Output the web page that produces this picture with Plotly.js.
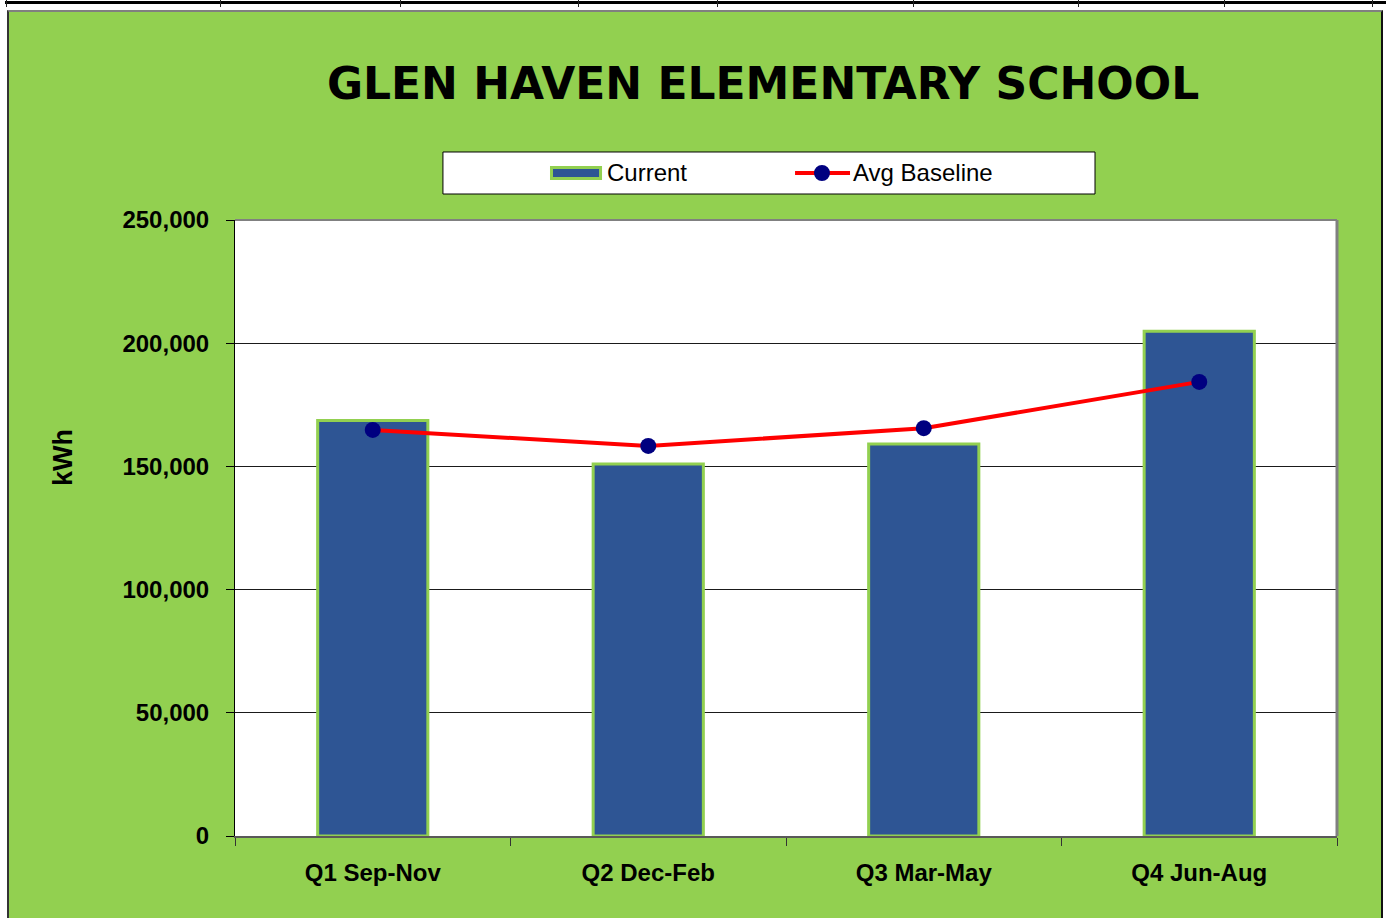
<!DOCTYPE html>
<html>
<head>
<meta charset="utf-8">
<script src="https://cdn.plot.ly/plotly-3.0.1.min.js"></script>
<style>
  html, body { margin: 0; padding: 0; background: #ffffff; width: 1386px; height: 918px; overflow: hidden; }
  #topline { position: absolute; left: 5px; top: 1px; width: 1381px; height: 3px; background: #000; }
  .tk { position: absolute; top: 0px; width: 1px; height: 7px; background: #222; }
  #chart { position: absolute; left: 7px; top: 10px; width: 1372px; height: 906px;
           border-top: 2px solid #808080; border-left: 2px solid #333; border-right: 2px solid #111; }
</style>
</head>
<body>
<div id="topline"></div>
<div class="tk" style="left:6px"></div>
<div class="tk" style="left:220px"></div>
<div class="tk" style="left:400px"></div>
<div class="tk" style="left:578px"></div>
<div class="tk" style="left:717px"></div>
<div class="tk" style="left:913px"></div>
<div class="tk" style="left:1078px"></div>
<div class="tk" style="left:1224px"></div>
<div class="tk" style="left:1372px"></div>
<div id="chart"></div>
<script>
const categories = ["Q1 Sep-Nov", "Q2 Dec-Feb", "Q3 Mar-May", "Q4 Jun-Aug"];
const currentKWh = [168600, 151000, 159100, 204800];
const avgBaselineKWh = [164800, 158300, 165500, 184300];
const yTickValues = [0, 50000, 100000, 150000, 200000, 250000];
const yTickLabels = ["0", "50,000", "100,000", "150,000", "200,000", "250,000"];
const seriesNames = ["Current", "Avg Baseline"];

const GREEN = "#92D050";
const BLUE = "#2E5594";
const RED = "#FF0000";
const NAVY = "#000080";
const sans = "Liberation Sans, Arial, sans-serif";

const traces = [
  {
    type: "bar",
    name: seriesNames[0],
    x: categories,
    y: currentKWh,
    width: 0.4,
    marker: { color: BLUE, line: { color: GREEN, width: 3 } },
    hoverinfo: "skip"
  },
  {
    type: "scatter",
    mode: "lines+markers",
    name: seriesNames[1],
    x: categories,
    y: avgBaselineKWh,
    line: { color: RED, width: 4 },
    marker: { color: NAVY, size: 16, symbol: "circle" },
    hoverinfo: "skip"
  }
];

const layout = {
  width: 1372,
  height: 906,
  paper_bgcolor: GREEN,
  plot_bgcolor: "#FFFFFF",
  margin: { l: 226, r: 44, t: 208, b: 82 },
  showlegend: false,
  title: {
    text: "GLEN HAVEN ELEMENTARY SCHOOL",
    font: { family: "DejaVu Sans, Arial Black, sans-serif", size: 44, color: "#000", weight: "bold" },
    xref: "container", yref: "container",
    x: 0.5496, y: 0.9205, xanchor: "center", yanchor: "middle"
  },
  xaxis: {
    type: "category",
    tickson: "boundaries",
    ticks: "outside",
    ticklen: 8,
    tickcolor: "#333",
    showline: true,
    linecolor: "#595959",
    linewidth: 2,
    showgrid: false,
    tickfont: { family: sans, size: 24, color: "#000", weight: "bold" },
    ticklabelstandoff: 14,
    fixedrange: true
  },
  yaxis: {
    range: [0, 250000],
    tickvals: yTickValues,
    ticktext: yTickLabels,
    ticks: "outside",
    ticklen: 8,
    tickcolor: "#000",
    showline: true,
    linecolor: "#000",
    linewidth: 1,
    showgrid: true,
    gridcolor: "#1a1a1a",
    gridwidth: 1,
    zeroline: false,
    tickfont: { family: sans, size: 24, color: "#000", weight: "bold" },
    ticklabelstandoff: 12,
    automargin: false,
    fixedrange: true
  },
  annotations: [
    { text: "kWh", xref: "paper", yref: "paper", x: -0.1561, y: 0.6153,
      xanchor: "center", yanchor: "middle", textangle: -90, showarrow: false,
      font: { family: sans, size: 27, color: "#000", weight: "bold" } },
    { text: seriesNames[0], xref: "paper", yref: "paper", x: 0.3358, y: 1.0763,
      xanchor: "left", yanchor: "middle", showarrow: false,
      font: { family: sans, size: 24, color: "#000" } },
    { text: seriesNames[1], xref: "paper", yref: "paper", x: 0.5590, y: 1.0763,
      xanchor: "left", yanchor: "middle", showarrow: false,
      font: { family: sans, size: 24, color: "#000" } }
  ],
  shapes: [
    { type: "line", xref: "paper", yref: "paper", x0: 0, x1: 1, y0: 1, y1: 1,
      line: { color: "#808080", width: 2 }, layer: "above" },
    { type: "line", xref: "paper", yref: "paper", x0: 1, x1: 1, y0: 0, y1: 1,
      line: { color: "#808080", width: 3 }, layer: "above" },
    { type: "rect", xref: "paper", yref: "paper", x0: 0.1887, x1: 0.7804, y0: 1.0422, y1: 1.1104,
      fillcolor: "#FFFFFF", line: { color: "#000", width: 1 }, layer: "below" },
    { type: "rect", xref: "paper", yref: "paper", x0: 0.2872, x1: 0.3317, y0: 1.0674, y1: 1.0852,
      fillcolor: BLUE, line: { color: GREEN, width: 3 }, layer: "above" },
    { type: "line", xref: "paper", yref: "paper", x0: 0.5082, x1: 0.5581, y0: 1.0763, y1: 1.0763,
      line: { color: RED, width: 4 }, layer: "above" },
    { type: "circle", xref: "paper", yref: "paper", x0: 0.5254, x1: 0.5399, y0: 1.0633, y1: 1.0893,
      fillcolor: NAVY, line: { color: NAVY, width: 0 }, layer: "above" }
  ]
};

Plotly.newPlot("chart", traces, layout, { displayModeBar: false, staticPlot: true });
</script>
</body>
</html>
